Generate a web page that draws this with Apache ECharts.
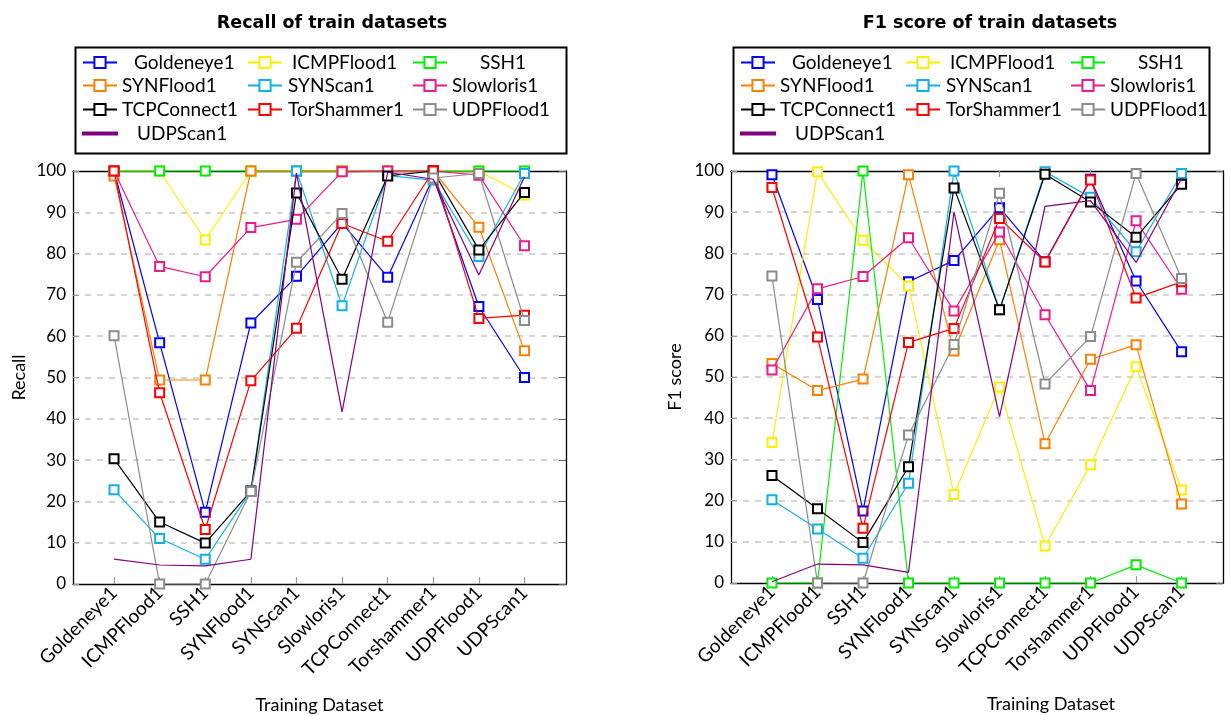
<!DOCTYPE html>
<html>
<head>
<meta charset="utf-8">
<title>Recall and F1 score of train datasets</title>
<script src="https://cdn.jsdelivr.net/npm/echarts@6/dist/echarts.min.js"></script>
<style>
  html, body { margin: 0; padding: 0; background: #fff; }
  #chart { width: 1230px; height: 716px; }
</style>
</head>
<body>
<div id="chart"></div>
<script>
// Training datasets along the x axis
const categories = ['Goldeneye1', 'ICMPFlood1', 'SSH1', 'SYNFlood1', 'SYNScan1',
  'Slowloris1', 'TCPConnect1', 'Torshammer1', 'UDPFlood1', 'UDPScan1'];

const seriesNames = ['Goldeneye1', 'ICMPFlood1', 'SSH1', 'SYNFlood1', 'SYNScan1',
  'Slowloris1', 'TCPConnect1', 'TorShammer1', 'UDPFlood1', 'UDPScan1'];

const yTicks = [0, 10, 20, 30, 40, 50, 60, 70, 80, 90, 100];

// Recall per test dataset (one array per series)
const recallGoldeneye = [100, 58.4, 17.4, 63.2, 74.5, 87.4, 74.3, 98.5, 67.2, 50.0];
const recallICMPFlood = [100, 100, 83.3, 100, 100, 100, 100, 100, 100, 94.2];
const recallSSH = [100, 100, 100, 100, 100, 100, 100, 100, 100, 100];
const recallSYNFlood = [98.8, 49.4, 49.4, 100, 100, 100, 100, 100, 86.4, 56.5];
const recallSYNScan = [22.8, 11.0, 6.0, 22.5, 100, 67.4, 98.9, 97.8, 79.3, 99.4];
const recallSlowloris = [100, 76.9, 74.4, 86.3, 88.3, 99.8, 100, 100, 99.0, 81.9];
const recallTCPConnect = [30.3, 15.0, 9.9, 22.5, 94.7, 73.8, 98.8, 100, 80.9, 94.8];
const recallTorShammer = [100, 46.3, 13.2, 49.2, 61.9, 87.3, 83.0, 100, 64.3, 65.1];
const recallUDPFlood = [60.1, 0, 0, 22.4, 77.9, 89.7, 63.4, 98.3, 99.4, 63.8];
const recallUDPScan = [6.0, 4.6, 4.4, 6.0, 99.5, 41.7, 99.7, 98.0, 74.8, 98.6];

// F1 score per test dataset
const f1Goldeneye = [99.1, 68.8, 17.5, 73.1, 78.3, 91.1, 78.0, 98.0, 73.3, 56.1];
const f1ICMPFlood = [34.1, 99.8, 83.2, 72.1, 21.5, 47.6, 9.0, 28.7, 52.5, 22.6];
const f1SSH = [0, 0, 100, 0, 0, 0, 0, 0, 4.4, 0];
const f1SYNFlood = [53.3, 46.7, 49.5, 99.1, 56.3, 83.3, 33.8, 54.3, 57.8, 19.2];
const f1SYNScan = [20.2, 13.1, 6.0, 24.2, 100, 66.3, 99.8, 93.6, 80.4, 99.4];
const f1Slowloris = [51.7, 71.4, 74.4, 83.8, 66.0, 85.2, 65.1, 46.7, 87.9, 71.3];
const f1TCPConnect = [26.1, 18.0, 9.8, 28.2, 95.9, 66.3, 99.2, 92.5, 83.9, 96.8];
const f1TorShammer = [96.0, 59.7, 13.3, 58.4, 61.8, 88.5, 77.9, 97.8, 69.2, 73.1];
const f1UDPFlood = [74.5, 0, 0, 35.9, 57.9, 94.6, 48.3, 59.8, 99.4, 73.9];
const f1UDPScan = [0.3, 4.6, 4.4, 2.6, 90.1, 40.4, 91.4, 92.8, 77.8, 98.2];

const recallData = [recallGoldeneye, recallICMPFlood, recallSSH, recallSYNFlood, recallSYNScan,
  recallSlowloris, recallTCPConnect, recallTorShammer, recallUDPFlood, recallUDPScan];
const f1Data = [f1Goldeneye, f1ICMPFlood, f1SSH, f1SYNFlood, f1SYNScan,
  f1Slowloris, f1TCPConnect, f1TorShammer, f1UDPFlood, f1UDPScan];

const colors = ['#0000ff', '#ffee00', '#00ee00', '#ff8000', '#10b0f0',
  '#ee1a8c', '#000000', '#ff0000', '#8c8c8c', '#800080'];

const FONT = 'Lato';
const catIdx = categories.map((_, i) => i);

function makeSeries(dataSets, gi) {
  return dataSets.map((vals, k) => ({
    name: seriesNames[k],
    type: 'line',
    xAxisIndex: gi * 2,
    yAxisIndex: gi * 2,
    data: vals.map((v, i) => [i, v]),
    symbol: k === 9 ? 'none' : 'emptyRect',
    symbolSize: 9,
    clip: false,
    color: colors[k],
    lineStyle: { width: 1.2, color: colors[k] },
    itemStyle: { color: colors[k], borderColor: colors[k], borderWidth: 1.3 },
    emphasis: { disabled: true },
    z: 2 + k * 0.01
  }));
}

function xAxes(gi, nameText, namePad) {
  return [{
    type: 'value', gridIndex: gi, position: 'bottom',
    min: -0.9, max: 9.91,
    name: nameText, nameLocation: 'middle', nameGap: 112,
    nameTextStyle: { fontFamily: FONT, fontSize: 18, color: '#000', padding: namePad },
    axisLine: { show: true, onZero: false, lineStyle: { color: '#000', width: 1.3 } },
    axisTick: { show: true, inside: true, length: 7, customValues: catIdx,
      lineStyle: { color: '#999', width: 1.2 } },
    axisLabel: { show: true, customValues: catIdx, rotate: 45, margin: 6,
      fontFamily: FONT, fontSize: 19, color: '#000',
      formatter: v => categories[Math.round(v)] },
    splitLine: { show: false }
  }, {
    type: 'value', gridIndex: gi, position: 'top',
    min: -0.9, max: 9.91,
    axisLine: { show: true, onZero: false, lineStyle: { color: '#000', width: 1.3 } },
    axisTick: { show: true, inside: true, length: 6, customValues: catIdx,
      lineStyle: { color: '#999', width: 1.2 } },
    axisLabel: { show: false },
    splitLine: { show: false }
  }];
}

function yAxes(gi, nameText, gap) {
  return [{
    type: 'value', gridIndex: gi, position: 'left',
    min: 0, max: 100, interval: 10,
    name: nameText, nameLocation: 'middle', nameGap: gap, nameRotate: 90,
    nameTextStyle: { fontFamily: FONT, fontSize: 18, color: '#000' },
    axisLine: { show: true, onZero: false, lineStyle: { color: '#000', width: 1.3 } },
    axisTick: { show: true, inside: true, length: 6, lineStyle: { color: '#999' } },
    axisLabel: { fontFamily: FONT, fontSize: 17, color: '#000', margin: 7,
      formatter: v => (yTicks.indexOf(v) >= 0 ? String(v) : '') },
    splitLine: { show: true, showMinLine: false, showMaxLine: false,
      lineStyle: { color: '#c8c8c8', width: 1.5, type: [6, 6] } }
  }, {
    type: 'value', gridIndex: gi, position: 'right',
    min: 0, max: 100, interval: 10,
    axisLine: { show: true, onZero: false, lineStyle: { color: '#000', width: 1.3 } },
    axisTick: { show: true, inside: true, length: 7, lineStyle: { color: '#666' } },
    axisLabel: { show: false },
    splitLine: { show: false }
  }];
}

// Key layout: [series index, line start x, row centre y, text start x]
const keyLayout = [
  [0, 82, 60, 133], [1, 247, 60, 291], [2, 412, 60, 479],
  [3, 82, 83, 121], [4, 247, 83, 287], [5, 412, 83, 448],
  [6, 82, 107, 121], [7, 247, 107, 287], [8, 412, 107, 448],
  [9, 82, 132, 136]
];

function keyItems(dx) {
  return keyLayout.map(([k, lx, ry, tx]) => {
    const pad = Math.max(0, tx - (lx + 34 + 5));
    const plain = k === 9;
    const item = {
      left: lx + dx, top: plain ? ry - 8 : ry - 7,
      orient: 'horizontal', padding: 0, itemGap: 0,
      itemWidth: 34, itemHeight: plain ? 2 : 14,
      data: [seriesNames[k]],
      textStyle: { fontFamily: FONT, fontSize: 19, color: '#000', padding: [0, 0, 0, pad] }
    };
    if (plain) item.icon = 'rect';
    return item;
  });
}

const option = {
  animation: false,
  backgroundColor: '#fff',
  title: [{
    text: 'Recall of train datasets', left: 327, top: 9, textAlign: 'center',
    textStyle: { fontFamily: 'DejaVu Sans', fontWeight: 'bold', fontSize: 17.5, color: '#000' }
  }, {
    text: 'F1 score of train datasets', left: 985, top: 9, textAlign: 'center',
    textStyle: { fontFamily: 'DejaVu Sans', fontWeight: 'bold', fontSize: 17.5, color: '#000' }
  }],
  legend: keyItems(0).concat(keyItems(658)),
  graphic: [{
    type: 'rect', left: 73, top: 45, z: 10,
    shape: { width: 491, height: 106 },
    style: { fill: 'none', stroke: '#000', lineWidth: 2 }
  }, {
    type: 'rect', left: 731, top: 45, z: 10,
    shape: { width: 476, height: 106 },
    style: { fill: 'none', stroke: '#000', lineWidth: 2 }
  }],
  grid: [
    { left: 73, top: 171, width: 493, height: 413, outerBoundsMode: 'none', containLabel: false },
    { left: 731, top: 171, width: 492, height: 412, outerBoundsMode: 'none', containLabel: false }
  ],
  xAxis: xAxes(0, 'Training Dataset', [0, 0, 0, 0]).concat(xAxes(1, 'Training Dataset', [0, 0, 0, 148])),
  yAxis: yAxes(0, 'Recall', 45).concat(yAxes(1, 'F1 score', 47)),
  series: makeSeries(recallData, 0).concat(makeSeries(f1Data, 1))
};

const chart = echarts.init(document.getElementById('chart'), null, { renderer: 'canvas' });
chart.setOption(option);
</script>
</body>
</html>
